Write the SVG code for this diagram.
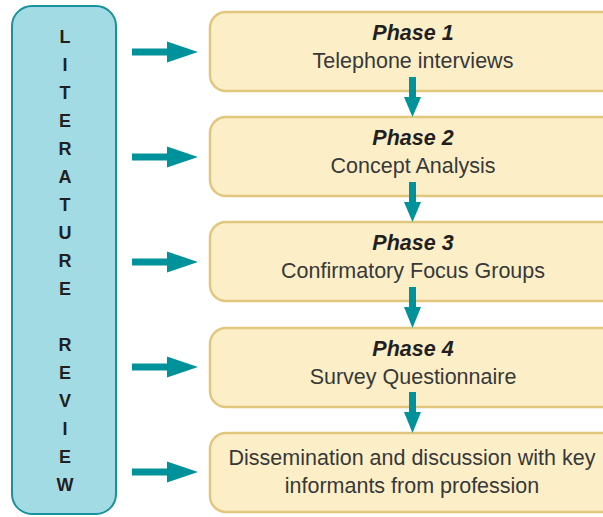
<svg xmlns="http://www.w3.org/2000/svg" width="603" height="517" viewBox="0 0 603 517">
<defs>
<style>
.side{fill:#a3dbe5;stroke:#17929a;stroke-width:2}
.box{fill:#fcefc7;stroke:#e3c67e;stroke-width:2.5}
.lt{font-family:"Liberation Sans",Arial,sans-serif;font-weight:bold;font-size:18px;fill:#231f20;text-anchor:middle}
.ph{font-family:"Liberation Sans",Arial,sans-serif;font-weight:bold;font-style:italic;font-size:21.5px;fill:#231f20;text-anchor:middle}
.tx{font-family:"Liberation Sans",Arial,sans-serif;font-size:21.5px;fill:#383838;text-anchor:middle}
.ar{fill:#00929a}
</style>
<path id="rarrow" class="ar" d="M0,-3.5 H35 V-10.5 L66,0 L35,10.5 V3.5 H0 Z"/>
</defs>
<g id="literature-review">
<rect class="side" x="12" y="6" width="104" height="508" rx="20"/>
<text class="lt" x="65" y="43">L</text>
<text class="lt" x="65" y="71">I</text>
<text class="lt" x="65" y="99">T</text>
<text class="lt" x="65" y="127">E</text>
<text class="lt" x="65" y="155">R</text>
<text class="lt" x="65" y="183">A</text>
<text class="lt" x="65" y="211">T</text>
<text class="lt" x="65" y="239">U</text>
<text class="lt" x="65" y="267">R</text>
<text class="lt" x="65" y="295">E</text>
<text class="lt" x="65" y="351">R</text>
<text class="lt" x="65" y="379">E</text>
<text class="lt" x="65" y="407">V</text>
<text class="lt" x="65" y="435">I</text>
<text class="lt" x="65" y="463">E</text>
<text class="lt" x="65" y="491">W</text>
</g>
<g id="phase1">
<rect class="box" x="210" y="12" width="410" height="79" rx="16"/>
<text class="ph" x="413" y="40">Phase 1</text>
<text class="tx" x="413" y="68">Telephone interviews</text>
</g>
<g id="phase2">
<rect class="box" x="210" y="117" width="410" height="79" rx="16"/>
<text class="ph" x="413" y="145">Phase 2</text>
<text class="tx" x="413" y="173">Concept Analysis</text>
</g>
<g id="phase3">
<rect class="box" x="210" y="222" width="410" height="79" rx="16"/>
<text class="ph" x="413" y="250">Phase 3</text>
<text class="tx" x="413" y="278">Confirmatory Focus Groups</text>
</g>
<g id="phase4">
<rect class="box" x="210" y="328" width="410" height="79" rx="16"/>
<text class="ph" x="413" y="356">Phase 4</text>
<text class="tx" x="413" y="384">Survey Questionnaire</text>
</g>
<g id="dissemination">
<rect class="box" x="210" y="433" width="410" height="79" rx="16"/>
<text class="tx" x="412" y="465">Dissemination and discussion with key</text>
<text class="tx" x="412" y="493">informants from profession</text>
</g>
<g id="connectors">
<use href="#rarrow" x="132" y="52"/>
<use href="#rarrow" x="132" y="157"/>
<use href="#rarrow" x="132" y="262"/>
<use href="#rarrow" x="132" y="367"/>
<use href="#rarrow" x="132" y="472"/>
<path class="ar" d="M409,77 H416 V97 H421 L412.5,117 L404,97 H409 Z"/>
<path class="ar" d="M409,182 H416 V202 H421 L412.5,222 L404,202 H409 Z"/>
<path class="ar" d="M409,287 H416 V307 H421 L412.5,328 L404,307 H409 Z"/>
<path class="ar" d="M409,392 H416 V412 H421 L412.5,433 L404,412 H409 Z"/>
</g>
</svg>
